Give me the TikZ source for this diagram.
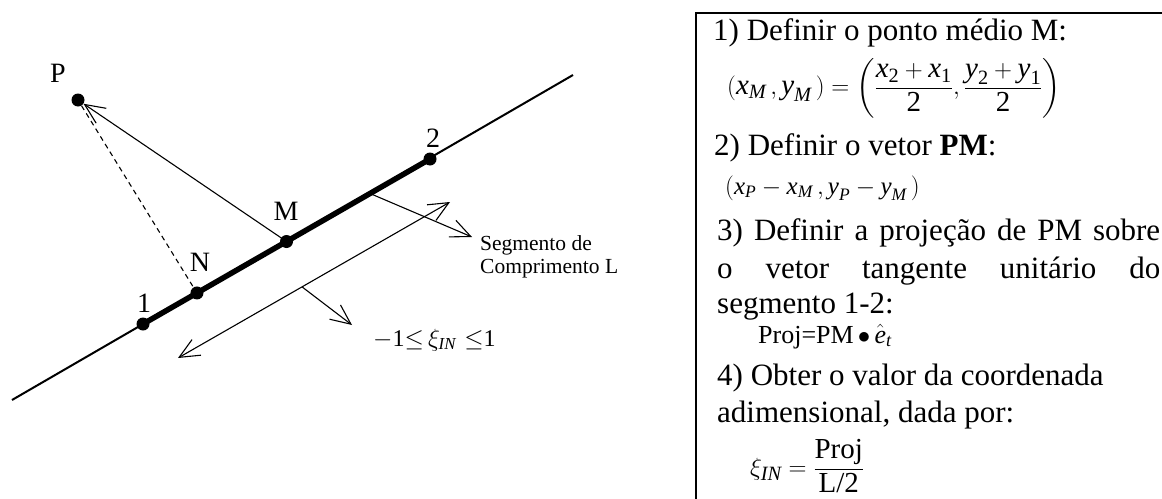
\documentclass[tikz,border=0pt]{standalone}
\usepackage{amsmath}
\usepackage{fontspec}
\setmainfont{Liberation Serif}
\usetikzlibrary{arrows.meta,calc}
\newcommand\vi[1]{\text{\normalfont\itshape #1}}
\newcommand\vr[1]{\text{\normalfont #1}}
\begin{document}
\begin{tikzpicture}[x=1pt,y=-1pt,
  dot/.style={circle,fill=black,inner sep=0pt,minimum size=13pt},
  lbl/.style={inner sep=0pt,font=\fontsize{28}{32}\selectfont},
  mainline/.style={line width=2pt},
  thickseg/.style={line width=5.5pt},
  thinarr/.style={line width=1.1pt,-{Straight Barb[length=20pt,width=18pt,line width=1.1pt]}},
  dblarr/.style={line width=1.1pt,{Straight Barb[length=20pt,width=18pt,line width=1.1pt]}-{Straight Barb[length=20pt,width=18pt,line width=1.1pt]}},
  dashline/.style={line width=1.1pt,dash pattern=on 5pt off 4pt},
  sidetxt/.style={anchor=base west,inner sep=0pt,font=\fontsize{21.5}{24}\selectfont},
  boxtxt/.style={anchor=base west,inner sep=0pt,font=\fontsize{31}{36}\selectfont},
  formtxt/.style={anchor=west,inner sep=0pt,font=\fontsize{29}{33}\selectfont}]
\useasboundingbox (0,0) rectangle (1162,498);
\clip (0,0) rectangle (1162,498);

% geometry
\coordinate (A) at (12,400);
\coordinate (B) at (573,75);
\coordinate (c1) at (143,324);
\coordinate (c2) at (430,159);
\coordinate (cM) at ($(c1)!0.5!(c2)$);
\coordinate (cN) at ($(c1)!0.188!(c2)$);
\coordinate (cP) at (78,100);

\draw[mainline] (A) -- (B);
\draw[thickseg] (c1) -- (c2);

\node[dot] (n1) at (c1) {};
\node[dot] (n2) at (c2) {};
\node[dot] (M) at (cM) {};
\node[dot] (N) at (cN) {};
\node[dot] (P) at (cP) {};

\draw[dashline] (P) -- (N);
\draw[thinarr] (M.center) -- (P);

% labels
\node[lbl] (lP) at (58,73) {P};
\node[lbl] (l1) at (144,303) {1};
\node[lbl] (lN) at (200,262) {N};
\node[lbl] (lM) at (286,211) {M};
\node[lbl] (l2) at (433,138) {2};

% segment arrow
\coordinate (s0) at ($(c1)!0.791!(c2)$);
\coordinate (s1) at (472,237);
\draw[thinarr] (s0) -- (s1);
\node[sidetxt] (seg1) at (480,250) {Segmento de};
\node[sidetxt] (seg2) at (480,273) {Comprimento L};

% double arrow
\coordinate (d0) at (178,358);
\coordinate (d1) at (450,202);
\draw[dblarr] (d0) -- (d1);
\coordinate (l0) at ($(d0)!0.456!(d1)$);
\coordinate (lend) at (352,325);
\draw[thinarr] (l0) -- (lend);
\node[anchor=base west,inner sep=0pt,font=\fontsize{24}{28}\selectfont] (xi) at (373,346)
  {$-\vr{1}{\le}\,\xi_{\vi{IN}}\,\,{\le}\vr{1}$};

% box
\draw[line width=2.2pt] (696,540) -- (696,13) -- (1200,13) -- (1200,540);

\node[boxtxt] (t1) at (713,40) {1) Definir o ponto médio M:};
\node[formtxt] (f1) at (727,88) {$(\vi{x}_{\vi{M}}\,,\vi{y}_{\vi{M}}\,)=\biggl(\dfrac{\vi{x}_{\vr{2}}+\vi{x}_{\vr{1}}}{\vr{2}},\dfrac{\vi{y}_{\vr{2}}+\vi{y}_{\vr{1}}}{\vr{2}}\biggr)$};
\node[boxtxt] (t2) at (714,155) {2) Definir o vetor \textbf{PM}:};
\node[formtxt,font=\fontsize{25}{29}\selectfont] (f2) at (725,188) {$(\vi{x}_{\vi{P}}-\vi{x}_{\vi{M}}\,,\vi{y}_{\vi{P}}-\vi{y}_{\vi{M}}\,)$};
\node[boxtxt] (t3) at (717,240) {\makebox[443pt][s]{3) Definir a projeção de PM sobre}};
\node[boxtxt] (t3b) at (717,278) {\makebox[443pt][s]{o vetor tangente unitário do}};
\node[boxtxt] (t3c) at (717,313) {segmento 1-2:};
\node[anchor=base west,inner sep=0pt,font=\fontsize{26}{30}\selectfont] (proj) at (758,343)
  {Proj=PM$\,\bullet\,\hat{\vi{e}}_{\vi{t}}$};
\node[boxtxt] (t4) at (717,385) {4) Obter o valor da coordenada};
\node[boxtxt] (t4b) at (717,422) {adimensional, dada por:};
\node[anchor=west,inner sep=0pt,font=\fontsize{29}{33}\selectfont] (f3) at (750,466)
  {$\xi_{\vi{IN}}=\dfrac{\vr{Proj}}{\vr{L/2}}$};
\end{tikzpicture}
\end{document}
